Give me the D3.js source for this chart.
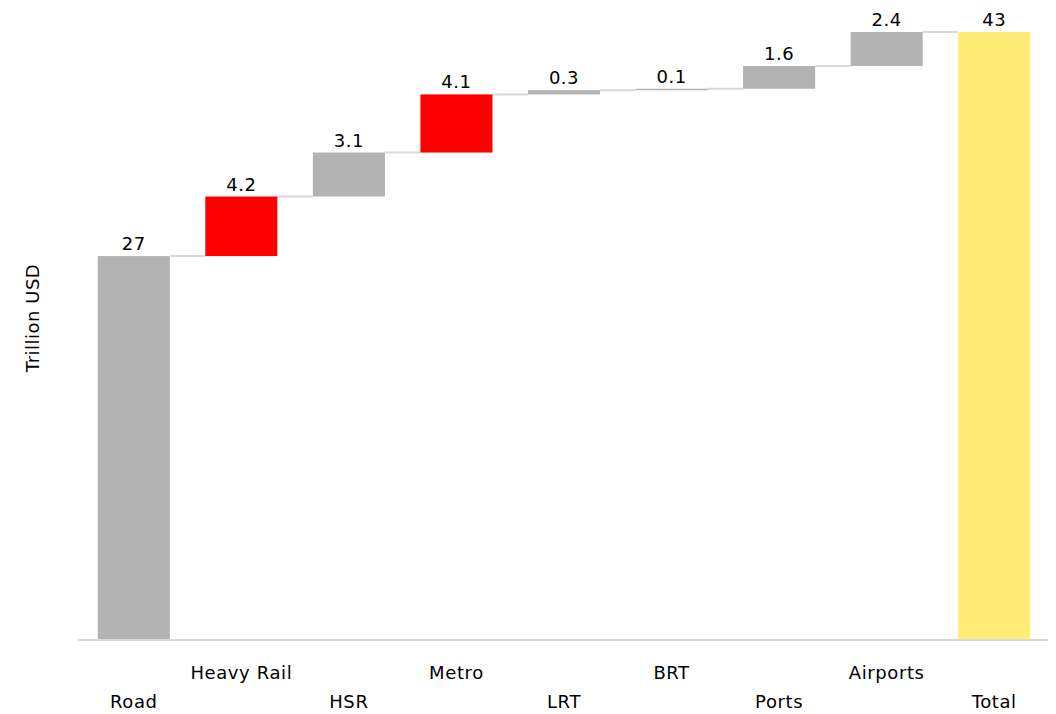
<!DOCTYPE html>
<html>
<head>
<meta charset="utf-8">
<script src="https://cdn.jsdelivr.net/npm/d3@7"></script>
<style>
  body { margin: 0; background: #fff; }
  text { font-family: "DejaVu Sans", "Noto Sans", sans-serif; fill: #000; }
</style>
</head>
<body>
<div id="chart"></div>
<script>
// waterfall data
var categories = ["Road", "Heavy Rail", "HSR", "Metro", "LRT", "BRT", "Ports", "Airports", "Total"]
var values = [27, 4.2, 3.1, 4.1, 0.3, 0.1, 1.6, 2.4]
var valueLabels = ["27", "4.2", "3.1", "4.1", "0.3", "0.1", "1.6", "2.4", "43"]
var barColors = ["#b3b3b3", "#ff0000", "#b3b3b3", "#ff0000", "#b3b3b3", "#b3b3b3", "#b3b3b3", "#b3b3b3", "#ffed78"]

var width = 1056, height = 714

var svg = d3.select("#chart").append("svg")
    .attr("width", width)
    .attr("height", height)

// running totals -> start/end for each bar
var bars = []
var run = 0
values.forEach(function(v, i){
    bars.push({name: categories[i], start: run, end: run + v, label: valueLabels[i], color: barColors[i]})
    run += v
})
bars.push({name: "Total", start: 0, end: run, label: valueLabels[8], color: barColors[8], total: true})

var x = d3.scaleBand()
    .domain(categories)
    .range([80, 1048])
    .paddingInner(0.33)
    .paddingOuter(0.165)

var y = d3.scaleLinear()
    .domain([0, run])
    .range([639, 32])

// connectors
var conn = bars.slice(0, -1).map(function(d, i){
    return {x1: x(d.name) + x.bandwidth(), x2: x(bars[i + 1].name), y: y(d.end)}
})
svg.append("g").selectAll("line")
    .data(conn).enter()
    .append("line")
    .attr("x1", function(d){ return d.x1 })
    .attr("x2", function(d){ return d.x2 })
    .attr("y1", function(d){ return d.y })
    .attr("y2", function(d){ return d.y })
    .style("stroke", "#d9d9d9")
    .style("stroke-width", 2)

// bars
svg.append("g").selectAll("rect")
    .data(bars).enter()
    .append("rect")
    .attr("x", function(d){ return x(d.name) })
    .attr("width", x.bandwidth())
    .attr("y", function(d){ return y(Math.max(d.start, d.end)) })
    .attr("height", function(d){ return Math.max(1.5, Math.abs(y(d.start) - y(d.end))) })
    .style("fill", function(d){ return d.color })

// x axis line
svg.append("line")
    .attr("x1", 78).attr("x2", 1048)
    .attr("y1", 640).attr("y2", 640)
    .style("stroke", "#d9d9d9")
    .style("stroke-width", 2)

// value labels
svg.append("g").selectAll("text")
    .data(bars).enter()
    .append("text")
    .attr("x", function(d){ return x(d.name) + x.bandwidth() / 2 })
    .attr("y", function(d){ return y(Math.max(d.start, d.end)) - 6 })
    .attr("text-anchor", "middle")
    .attr("font-size", 18)
    .attr("letter-spacing", 0.5)
    .text(function(d){ return d.label })

// category labels, staggered on two rows
svg.append("g").selectAll("text")
    .data(categories).enter()
    .append("text")
    .attr("x", function(d){ return x(d) + x.bandwidth() / 2 })
    .attr("y", function(d, i){ return i % 2 == 0 ? 708 : 679 })
    .attr("text-anchor", "middle")
    .attr("font-size", 18)
    .attr("letter-spacing", 0.6)
    .text(function(d){ return d })

// y axis title
svg.append("text")
    .attr("transform", "translate(39,318) rotate(-90)")
    .attr("text-anchor", "middle")
    .attr("font-size", 18)
    .attr("letter-spacing", 0.5)
    .text("Trillion USD")
</script>
</body>
</html>
